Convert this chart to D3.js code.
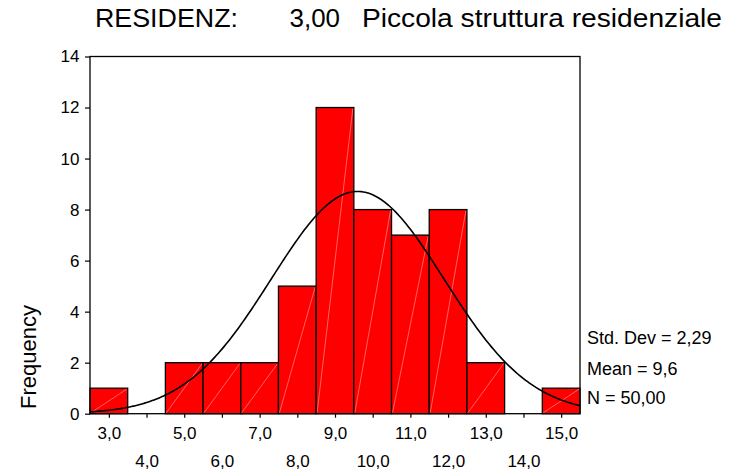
<!DOCTYPE html>
<html>
<head>
<meta charset="utf-8">
<script src="https://cdn.jsdelivr.net/npm/d3@7"></script>
<style>
  html, body { margin: 0; padding: 0; background: #fff; }
  svg { display: block; }
  text { font-family: "Liberation Sans", Arial, Helvetica, sans-serif; fill: #000; }
</style>
</head>
<body>
<svg id="chart" width="745" height="474"></svg>
<script>
// ---- data ----
const binCenters = [3, 4, 5, 6, 7, 8, 9, 10, 11, 12, 13, 14, 15];
const frequencies = [1, 0, 2, 2, 2, 5, 12, 8, 7, 8, 2, 0, 1];
const xTickLabels = ["3,0","4,0","5,0","6,0","7,0","8,0","9,0","10,0","11,0","12,0","13,0","14,0","15,0"];
const yTicks = [0, 2, 4, 6, 8, 10, 12, 14];
const statsLabels = ["Std. Dev = 2,29", "Mean = 9,6", "N = 50,00"];
const stdDev = 2.29;
const mean = 9.6;
const nCases = 50;
const binWidth = 1;
const titleParts = ["RESIDENZ:", "3,00", "Piccola struttura residenziale"];
const yLabel = "Frequency";

// ---- layout ----
const svg = d3.select("#chart");
const plotL = 90, plotR = 580, plotT = 56.5, plotB = 413.7;

const x = d3.scaleLinear().domain([2.5, 15.5]).range([plotL, plotR]);
const y = d3.scaleLinear().domain([0, 14]).range([plotB, plotT]);

// bars
const bars = svg.append("g");
binCenters.forEach((c, i) => {
  const f = frequencies[i];
  if (f <= 0) return;
  const x0 = x(c - binWidth / 2), x1 = x(c + binWidth / 2);
  const y0 = y(0), y1 = y(f);
  bars.append("rect")
    .attr("x", x0).attr("y", y1)
    .attr("width", x1 - x0).attr("height", y0 - y1)
    .attr("fill", "#ff0000")
    .attr("stroke", "#000").attr("stroke-width", 1.3);
  bars.append("line")
    .attr("x1", x0 + 1).attr("y1", y0 - 1)
    .attr("x2", x1 - 1).attr("y2", y1 + 1)
    .attr("stroke", "#ffb0b0").attr("stroke-width", 0.8).attr("opacity", 0.7);
});

// normal curve fitted from mean / sd / N
const curvePts = d3.range(0, 261).map(k => {
  const v = 2.5 + k * 0.05;
  const z = (v - mean) / stdDev;
  const d = nCases * binWidth / (stdDev * Math.sqrt(2 * Math.PI)) * Math.exp(-0.5 * z * z);
  return [v, d];
});
svg.append("path")
  .datum(curvePts)
  .attr("fill", "none")
  .attr("stroke", "#000")
  .attr("stroke-width", 1.6)
  .attr("d", d3.line().x(d => x(d[0])).y(d => y(d[1])));

// frame
svg.append("rect")
  .attr("x", plotL).attr("y", plotT)
  .attr("width", plotR - plotL).attr("height", plotB - plotT)
  .attr("fill", "none").attr("stroke", "#000").attr("stroke-width", 1.3);

// x axis
const xAxis = svg.append("g")
  .attr("transform", `translate(0,${plotB})`)
  .call(d3.axisBottom(x)
    .tickValues(binCenters)
    .tickSize(4)
    .tickPadding(9.2)
    .tickFormat((d, i) => xTickLabels[i]));
xAxis.select(".domain").remove();
xAxis.selectAll(".tick line").attr("stroke", "#000").attr("stroke-width", 1.2);
xAxis.selectAll(".tick text")
  .attr("font-size", 17)
  .attr("font-family", "Liberation Sans, Arial, sans-serif")
  .attr("fill", "#000")
  .attr("y", (d, i) => (i % 2 === 1 ? 4 + 9.2 + 28.5 : 4 + 9.2));

// y axis
const yAxis = svg.append("g")
  .attr("transform", `translate(${plotL},0)`)
  .call(d3.axisLeft(y)
    .tickValues(yTicks)
    .tickSize(5)
    .tickPadding(5.5)
    .tickFormat(d3.format("d")));
yAxis.select(".domain").remove();
yAxis.selectAll(".tick line").attr("stroke", "#000").attr("stroke-width", 1.2);
yAxis.selectAll(".tick text")
  .attr("font-size", 17)
  .attr("font-family", "Liberation Sans, Arial, sans-serif")
  .attr("fill", "#000");

// y label
svg.append("text")
  .attr("transform", "translate(36,357) rotate(-90)")
  .attr("text-anchor", "middle")
  .attr("font-size", 22)
  .text(yLabel);

// title
const titleX = [95, 289.5, 362];
const titleW = [143, 50.5, 360];
titleParts.forEach((t, i) => {
  svg.append("text")
    .attr("x", titleX[i]).attr("y", 27.3)
    .attr("font-size", 25)
    .attr("textLength", titleW[i])
    .attr("lengthAdjust", "spacingAndGlyphs")
    .text(t);
});

// stats
const statsY = [344.3, 375, 404];
statsLabels.forEach((s, i) => {
  svg.append("text").attr("x", 587).attr("y", statsY[i]).attr("font-size", 18).text(s);
});
</script>
</body>
</html>
